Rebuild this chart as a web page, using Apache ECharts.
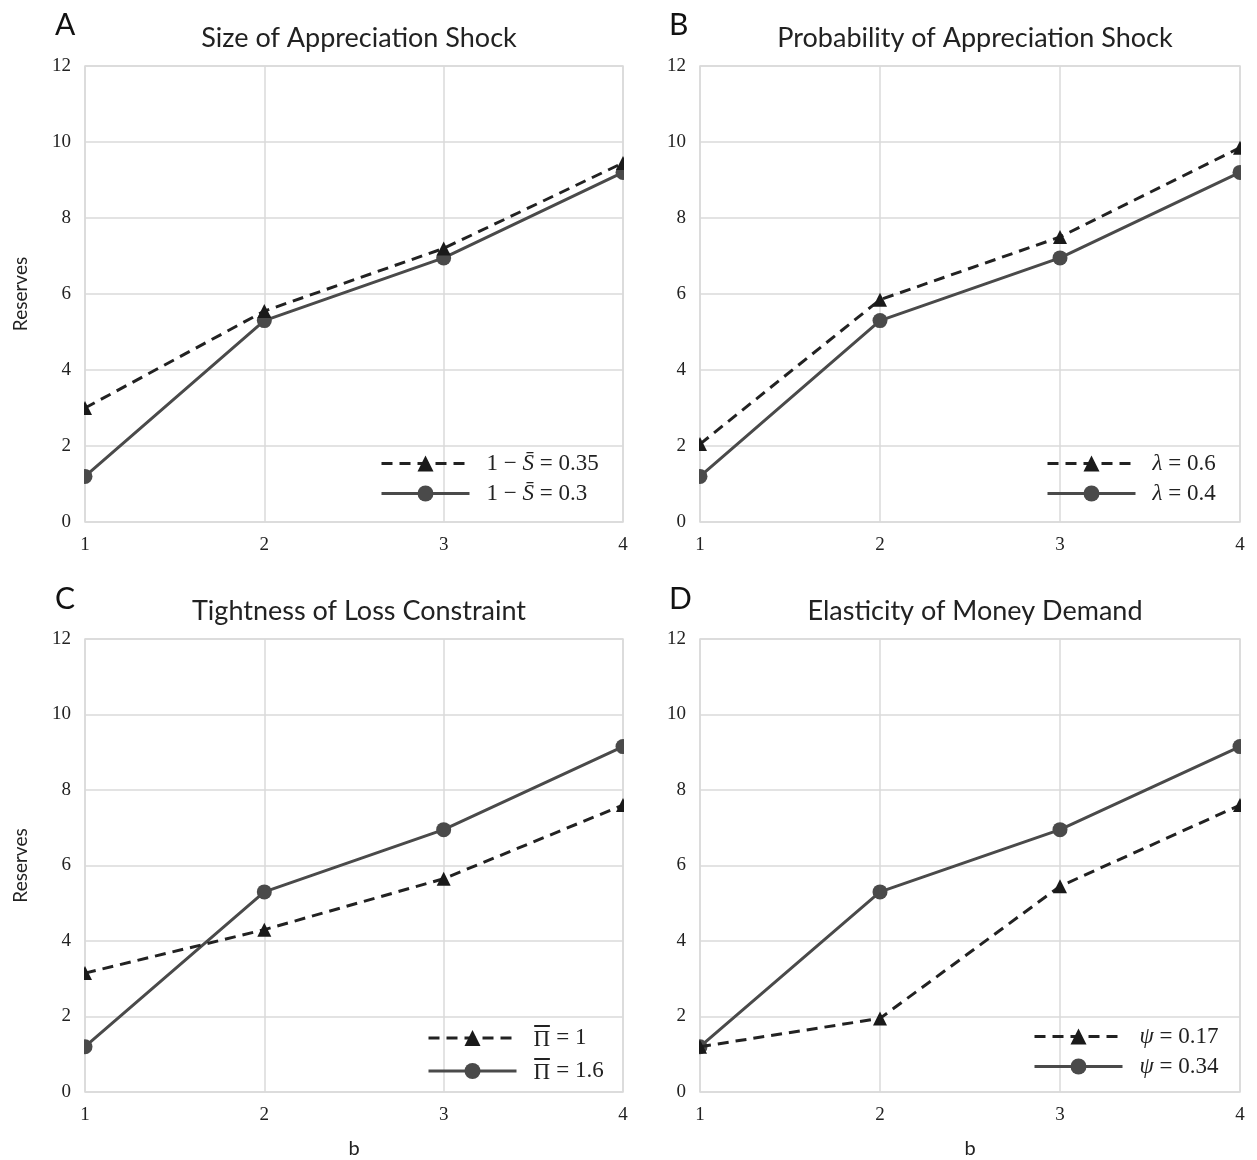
<!DOCTYPE html>
<html><head><meta charset="utf-8">
<script src="https://cdn.jsdelivr.net/npm/echarts@6/dist/echarts.min.js"></script>
<style>html,body{margin:0;padding:0;background:#fff}#c{width:1257px;height:1160px}</style>
</head><body><div id="c"></div>
<script>
const bValues = [1, 2, 3, 4];
const yTicks = [0, 2, 4, 6, 8, 10, 12];
const panelLetters = ['A', 'B', 'C', 'D'];
const panelTitles = ['Size of Appreciation Shock', 'Probability of Appreciation Shock', 'Tightness of Loss Constraint', 'Elasticity of Money Demand'];
// dashed (triangle) series
const aDashed = [3.0, 5.55, 7.2, 9.45];
const bDashed = [2.05, 5.85, 7.5, 9.85];
const cDashed = [3.15, 4.3, 5.65, 7.6];
const dDashed = [1.2, 1.95, 5.45, 7.6];
// solid (circle) series
const aSolid = [1.2, 5.3, 6.95, 9.2];
const bSolid = [1.2, 5.3, 6.95, 9.2];
const cSolid = [1.2, 5.3, 6.95, 9.15];
const dSolid = [1.2, 5.3, 6.95, 9.15];
// legend labels (rich text)
const legendLabels = [
  ['{n|1 − }{i|S̄}{n| = 0.35}', '{n|1 − }{i|S̄}{n| = 0.3}'],
  ['{i|λ}{n| = 0.6}', '{i|λ}{n| = 0.4}'],
  ['{p|Π}{n| = 1}', '{p|Π}{n| = 1.6}'],
  ['{i|ψ}{n| = 0.17}', '{i|ψ}{n| = 0.34}']
];
const dashedData = [aDashed, bDashed, cDashed, dDashed];
const solidData = [aSolid, bSolid, cSolid, dSolid];

// overline decoration for the Π symbol (drawn as a rich-text background)
const bar = document.createElement('canvas');
bar.width = 40; bar.height = 40;
(function () {
  const ctx = bar.getContext('2d');
  ctx.fillStyle = '#222';
  ctx.fillRect(2, 0, 36, 3);
})();

const grids = [
  {left: 85, top: 66, width: 538, height: 456},
  {left: 700, top: 66, width: 540, height: 456},
  {left: 85, top: 639, width: 538, height: 456},
  {left: 700, top: 639, width: 540, height: 456}
];
const legendPos = [
  {left: 380, top: 452},
  {left: 1046, top: 452},
  {left: 427, top: 1025},
  {left: 1033, top: 1025}
];
const serif = '"Liberation Serif", "DejaVu Serif", serif';
const sans = 'Lato, "Open Sans", sans-serif';
const gridColor = '#dadada';

// white strips just outside each plot area so edge markers appear clipped at the axes
const clipMasks = [];
grids.forEach(g => {
  clipMasks.push({type: 'rect', z: 10, silent: true,
    shape: {x: g.left - 12, y: g.top, width: 11, height: g.height},
    style: {fill: '#fff'}});
  clipMasks.push({type: 'rect', z: 10, silent: true,
    shape: {x: g.left + g.width + 1, y: g.top, width: 12, height: g.height},
    style: {fill: '#fff'}});
});

const option = {
  backgroundColor: '#fff',
  animation: false,
  graphic: clipMasks,
  grid: grids.map(g => Object.assign({show: true, borderColor: gridColor, borderWidth: 1.5, backgroundColor: 'transparent'}, g)),
  xAxis: grids.map((g, i) => ({
    gridIndex: i, type: 'value', min: 1, max: 4, interval: 1,
    name: i >= 2 ? 'b' : '', nameLocation: 'middle', nameGap: 47,
    nameTextStyle: {fontFamily: sans, fontSize: 20, color: '#222'},
    axisLine: {show: false}, axisTick: {show: false},
    axisLabel: {fontFamily: serif, fontSize: 19, color: '#222', margin: 14},
    splitLine: {show: true, lineStyle: {color: gridColor, width: 1.5}}
  })),
  yAxis: grids.map((g, i) => ({
    gridIndex: i, type: 'value', min: yTicks[0], max: yTicks[yTicks.length - 1], interval: 2,
    name: i % 2 === 0 ? 'Reserves' : '', nameLocation: 'middle', nameGap: 55,
    nameTextStyle: {fontFamily: sans, fontSize: 19, color: '#222'},
    axisLine: {show: false}, axisTick: {show: false},
    axisLabel: {fontFamily: serif, fontSize: 19, color: '#222', margin: 14},
    splitLine: {show: true, lineStyle: {color: gridColor, width: 1.5}}
  })),
  title: grids.map((g, i) => ({
    text: panelTitles[i], left: g.left + g.width / 2, top: i < 2 ? 20 : 593, textAlign: 'center',
    textStyle: {fontFamily: sans, fontSize: 27, fontWeight: 'normal', color: '#222'}
  })).concat(grids.map((g, i) => ({
      text: panelLetters[i], left: i % 2 === 0 ? 50 : 664, top: i < 2 ? 5 : 579,
      textStyle: {fontFamily: sans, fontSize: 30, fontWeight: 'normal', color: '#111'}
    }))),
  legend: grids.map((g, i) => ({
    data: ['d' + i, 's' + i],
    left: legendPos[i].left, top: legendPos[i].top, orient: 'vertical',
    padding: 0,
    itemWidth: 88, itemHeight: 20, itemGap: 7,
    lineStyle: {width: 3},
    formatter: name => (name[0] === 'd' ? legendLabels[i][0] : legendLabels[i][1]),
    textStyle: {
      padding: [0, 0, 0, 12],
      rich: {
        n: {fontFamily: serif, fontSize: 23, color: '#222'},
        i: {fontFamily: serif, fontSize: 23, fontStyle: 'italic', color: '#222'},
        p: {fontFamily: serif, fontSize: 23, color: '#222', lineHeight: 20, width: 17,
            padding: [3, 0, 0, 0], backgroundColor: {image: bar}}
      }
    }
  })),
  series: []
};
for (let i = 0; i < 4; i++) {
  option.series.push({
    name: 'd' + i, type: 'line', xAxisIndex: i, yAxisIndex: i,
    data: bValues.map((b, k) => [b, dashedData[i][k]]),
    symbol: 'triangle', symbolSize: 14, clip: true,
    lineStyle: {color: '#222', width: 3, type: [11, 7]},
    itemStyle: {color: '#1a1a1a'}, z: 3
  });
  option.series.push({
    name: 's' + i, type: 'line', xAxisIndex: i, yAxisIndex: i,
    data: bValues.map((b, k) => [b, solidData[i][k]]),
    symbol: 'circle', symbolSize: 15, clip: true,
    lineStyle: {color: '#4a4a4a', width: 3, type: 'solid'},
    itemStyle: {color: '#4a4a4a'}, z: 2
  });
}
const chart = echarts.init(document.getElementById('c'), null, {renderer: 'canvas'});
chart.setOption(option);
</script></body></html>
